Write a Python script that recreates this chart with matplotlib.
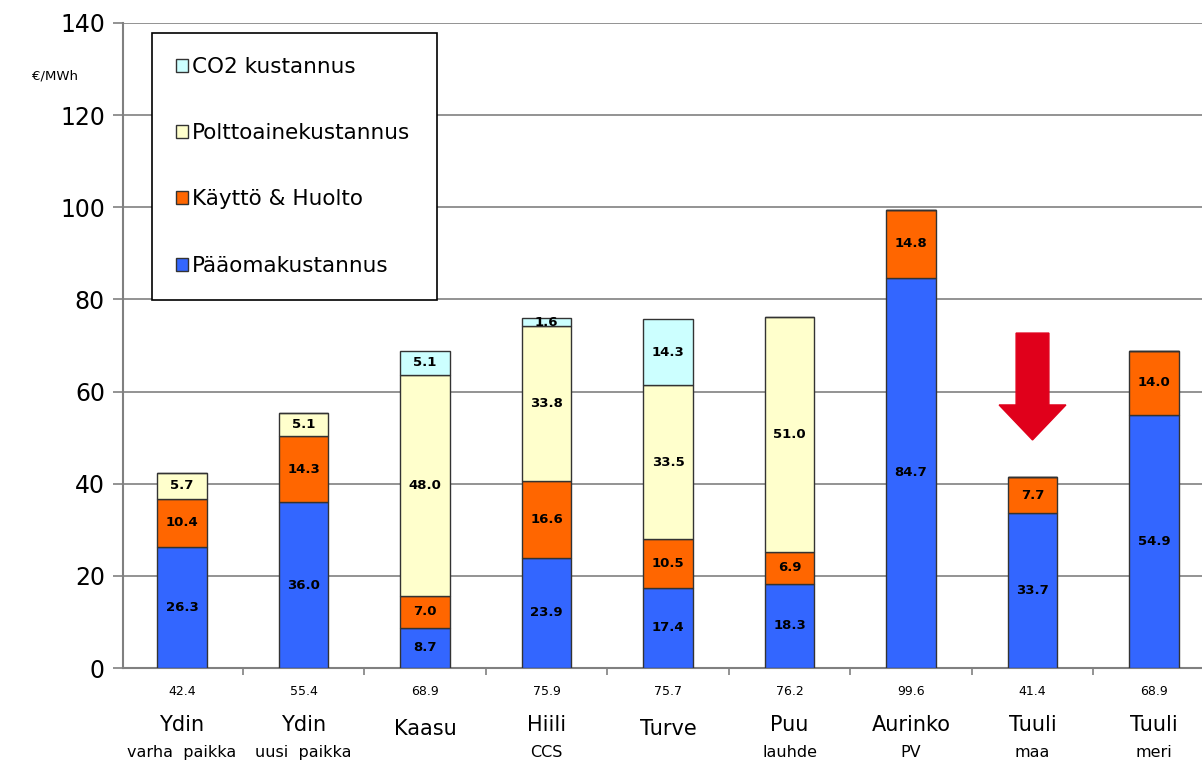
import numpy as np
import matplotlib
matplotlib.use("Agg")
import matplotlib.pyplot as plt
from matplotlib.patches import Patch
from matplotlib.transforms import blended_transform_factory

names = ["Ydin", "Ydin", "Kaasu", "Hiili", "Turve", "Puu", "Aurinko", "Tuuli", "Tuuli"]
sub_names = ["varha  paikka", "uusi  paikka", "", "CCS", "", "lauhde", "PV", "maa", "meri"]
totals = ["42.4", "55.4", "68.9", "75.9", "75.7", "76.2", "99.6", "41.4", "68.9"]

paaoma = [26.3, 36.0, 8.7, 23.9, 17.4, 18.3, 84.7, 33.7, 54.9]
kaytto = [10.4, 14.3, 7.0, 16.6, 10.5, 6.9, 14.8, 7.7, 14.0]
poltto = [5.7, 5.1, 48.0, 33.8, 33.5, 51.0, 0, 0, 0]
co2 = [0, 0, 5.1, 1.6, 14.3, 0, 0, 0, 0]

series = [
    ("Pääomakustannus", paaoma, "#3366ff"),
    ("Käyttö & Huolto", kaytto, "#ff6600"),
    ("Polttoainekustannus", poltto, "#ffffcc"),
    ("CO2 kustannus", co2, "#ccffff"),
]

fig = plt.figure(figsize=(12.02, 7.69), dpi=100)
ax = fig.add_axes([0.1023, 0.1313, 0.8977, 0.8388])

x = np.arange(len(names))
bottom = np.zeros(len(names))
for label, vals, color in series:
    vals = np.array(vals)
    ax.bar(x, vals, width=0.41, bottom=bottom, color=color,
           edgecolor="#333333", linewidth=1.0, zorder=3)
    for xi, b, v in zip(x, bottom, vals):
        if v > 0:
            ax.text(xi, b + v / 2, f"{v:.1f}", ha="center", va="center",
                    fontsize=9.5, fontweight="bold", zorder=4)
    bottom += vals

# red arrow above "Tuuli maa"
ax.arrow(7, 72.7, 0, -23.2, width=0.27, head_width=0.55, head_length=7.6,
         length_includes_head=True, color="#e0001b", zorder=5)

ax.set_xlim(-0.486, 8.395)
ax.set_ylim(0, 140)
ax.set_yticks(np.arange(0, 141, 20))
ax.tick_params(axis="y", labelsize=17, length=7, width=1.2, color="#808080", pad=6)
ax.set_xticks(np.arange(0.5, 8.4, 1.0))
ax.set_xticklabels([])
ax.tick_params(axis="x", length=5, width=1.2, color="#808080")
ax.yaxis.grid(True, color="#808080", linewidth=1.2, zorder=0)
ax.set_axisbelow(True)
for s in ["top", "right"]:
    ax.spines[s].set_visible(False)
for s in ["left", "bottom"]:
    ax.spines[s].set_color("#808080")
    ax.spines[s].set_linewidth(1.5)

tr = blended_transform_factory(ax.transData, ax.transAxes)
for xi, nm, sb, tot in zip(x, names, sub_names, totals):
    ax.text(xi, -0.037, tot, transform=tr, ha="center", va="center", fontsize=9)
    if sb:
        ax.text(xi, -0.088, nm, transform=tr, ha="center", va="center", fontsize=15)
        ax.text(xi, -0.131, sb, transform=tr, ha="center", va="center", fontsize=11.5)
    else:
        ax.text(xi, -0.095, nm, transform=tr, ha="center", va="center", fontsize=15)

fig.text(55 / 1202, 1 - 76 / 769, "€/MWh", ha="center", va="center", fontsize=9.5)

handles = [Patch(facecolor=c, edgecolor="#333333", label=l) for l, _, c in series[::-1]]
leg = ax.legend(handles=handles, loc="upper left",
                bbox_to_anchor=(0.027, 0.575, 0.264, 0.41), mode="expand",
                borderaxespad=0, fontsize=15.5, labelspacing=2.15,
                handlelength=0.55, handleheight=0.55, handletextpad=0.2,
                borderpad=1.12, fancybox=False, framealpha=1, edgecolor="black")
leg.get_frame().set_linewidth(1.2)
leg.set_zorder(6)

fig.savefig("out.png", dpi=100)
